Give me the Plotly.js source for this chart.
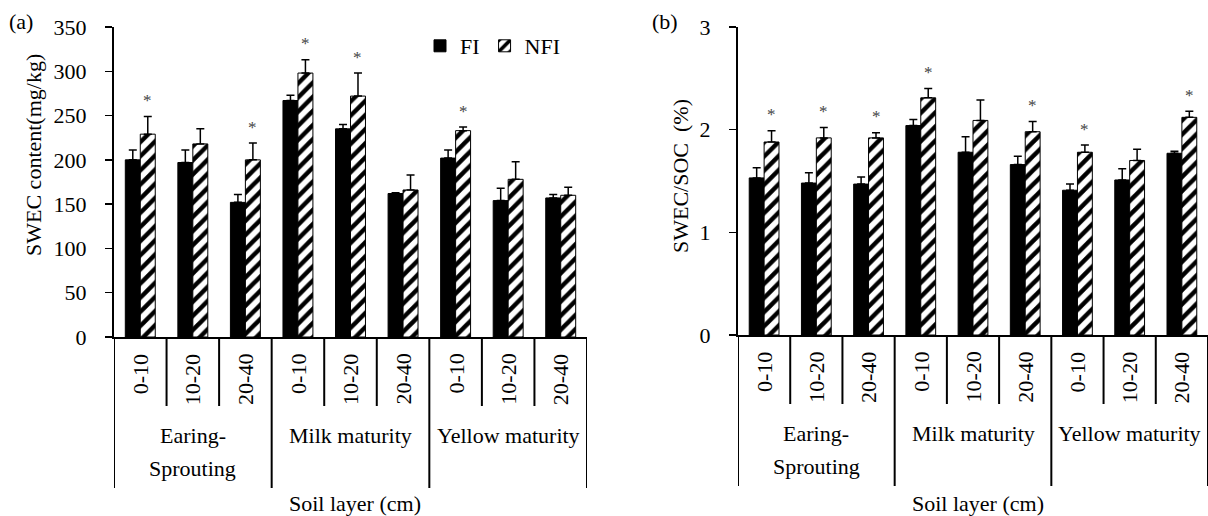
<!DOCTYPE html>
<html>
<head>
<meta charset="utf-8">
<script src="https://cdn.plot.ly/plotly-3.0.1.min.js"></script>
<style>html,body{margin:0;padding:0;background:#fff}#chart{width:1208px;height:516px}</style>
</head>
<body>
<div id="chart"></div>
<script>
// ---- data ----
const stages = ["Earing-<br>Sprouting", "Milk maturity", "Yellow maturity"];
const layers = ["0-10", "10-20", "20-40"];
const seriesNames = ["FI", "NFI"];

// (a) SWEC content (mg/kg)
const swecFI = [200, 197, 152, 267, 235, 162, 202, 154, 157];
const swecFIerr = [11, 14, 9, 6, 5, 1, 9, 14, 4];
const swecNFI = [229, 218, 200, 298, 272, 166, 233, 178, 160];
const swecNFIerr = [20, 17, 19, 15, 26, 17, 4, 20, 9];
const swecSig = [1, 0, 1, 1, 1, 0, 1, 0, 0];

// (b) SWEC/SOC (%)
const ratioFI = [1.53, 1.48, 1.47, 2.04, 1.78, 1.66, 1.41, 1.51, 1.77];
const ratioFIerr = [0.10, 0.10, 0.07, 0.06, 0.15, 0.08, 0.06, 0.11, 0.02];
const ratioNFI = [1.88, 1.92, 1.92, 2.31, 2.09, 1.98, 1.78, 1.70, 2.12];
const ratioNFIerr = [0.11, 0.10, 0.05, 0.09, 0.20, 0.10, 0.07, 0.11, 0.06];
const ratioSig = [1, 1, 1, 1, 0, 1, 1, 0, 1];

const yTitleA = "SWEC content(mg/kg)";
const yTitleB = "SWEC/SOC  (%)";
const xTitle = "Soil layer (cm)";

// ---- layout helpers ----
const W = 1208, H = 516;
const px = v => v / W;
const py = v => 1 - v / H;
const FONT = "'Liberation Serif', serif";
const nCat = stages.length * layers.length;
const xIdx = Array.from({length: nCat}, (_, i) => i);
const zeros = xIdx.map(() => 0);
const BARGAP = 0.43;
const nfiOffset = (1 - BARGAP) / 4;

function barTraces(fi, fiErr, nfi, nfiErr, xa, ya, showLeg) {
  return [
    {type: 'bar', name: seriesNames[0], x: xIdx, y: fi, xaxis: xa, yaxis: ya,
     showlegend: showLeg, legendgroup: 'FI',
     marker: {color: '#000', line: {color: '#000', width: 1}},
     error_y: {type: 'data', symmetric: false, array: fiErr, arrayminus: zeros,
               color: '#000', thickness: 1.5, width: 4}},
    {type: 'bar', name: seriesNames[1], x: xIdx, y: nfi, xaxis: xa, yaxis: ya,
     showlegend: showLeg, legendgroup: 'NFI',
     marker: {color: '#fff', line: {color: '#000', width: 1},
              pattern: {shape: '/', fgcolor: '#000', bgcolor: '#fff', size: 10, solidity: 0.45, fillmode: 'replace'}},
     error_y: {type: 'data', symmetric: false, array: nfiErr, arrayminus: zeros,
               color: '#000', thickness: 1.5, width: 4}}
  ];
}

const data = [
  ...barTraces(swecFI, swecFIerr, swecNFI, swecNFIerr, 'x', 'y', true),
  ...barTraces(ratioFI, ratioFIerr, ratioNFI, ratioNFIerr, 'x2', 'y2', false)
];

const panels = [
  {xa: 'x', ya: 'y', left: 114, right: 587, top: 27, bottom: 337, nfi: swecNFI, err: swecNFIerr, sig: swecSig,
   ytitle: yTitleA, ytx: 33, yty: 155, tag: '(a)', tagx: 20.5, xtx: 355},
  {xa: 'x2', ya: 'y2', left: 738, right: 1208.5, top: 27, bottom: 335, nfi: ratioNFI, err: ratioNFIerr, sig: ratioSig,
   ytitle: yTitleB, ytx: 681, yty: 176, tag: '(b)', tagx: 665, xtx: 978}
];

const shapes = [];
const annotations = [];
panels.forEach(p => {
  for (let k = 0; k <= nCat; k++) {
    const long = k % layers.length === 0;
    shapes.push({type: 'line', xref: p.xa, yref: 'paper', x0: k - 0.5, x1: k - 0.5,
      y0: py(p.bottom), y1: py(p.bottom + (long ? 151 : 69)), line: {color: '#000', width: 2}});
  }
  xIdx.forEach(i => {
    annotations.push({xref: p.xa, yref: 'paper', x: i, y: py(p.bottom + 15), yanchor: 'top', xanchor: 'center',
      text: layers[i % layers.length], textangle: -90, showarrow: false, font: {family: FONT, size: 22, color: '#000'}});
    if (p.sig[i]) {
      annotations.push({xref: p.xa, yref: p.ya, x: i + nfiOffset, y: p.nfi[i] + p.err[i], yshift: 16,
        xanchor: 'center', text: '*', showarrow: false, font: {family: FONT, size: 17, color: '#444'}});
    }
  });
  stages.forEach((s, g) => {
    s.split('<br>').forEach((line, li) => {
      annotations.push({xref: p.xa, yref: 'paper', x: g * layers.length + (layers.length - 1) / 2,
        y: py(p.bottom + 98 + li * 33), xanchor: 'center', yanchor: 'middle', text: line, showarrow: false,
        font: {family: FONT, size: 22, color: '#000'}});
    });
  });
  annotations.push({xref: 'paper', yref: 'paper', x: px(p.xtx), y: py(503), xanchor: 'center', yanchor: 'middle',
    text: xTitle, showarrow: false, font: {family: FONT, size: 22, color: '#000'}});
  annotations.push({xref: 'paper', yref: 'paper', x: px(p.ytx), y: py(p.yty), xanchor: 'center', yanchor: 'middle',
    text: p.ytitle, textangle: -90, showarrow: false, font: {family: FONT, size: 22, color: '#000'}});
  annotations.push({xref: 'paper', yref: 'paper', x: px(p.tagx), y: py(22), xanchor: 'center', yanchor: 'middle',
    text: p.tag, showarrow: false, font: {family: FONT, size: 22, color: '#000'}});
});

const xBase = {range: [-0.5, nCat - 0.5], showticklabels: false, ticks: '', showgrid: false, zeroline: false,
  showline: true, linecolor: '#000', linewidth: 2, fixedrange: true};
const yBase = {showgrid: false, zeroline: false, showline: true, linecolor: '#000', linewidth: 2,
  ticks: 'outside', ticklen: 7, tickwidth: 1.5, tickcolor: '#000', ticklabelstandoff: 14,
  tickfont: {family: FONT, size: 22, color: '#000'}, fixedrange: true};

const layout = {
  width: W, height: H,
  margin: {l: 0, r: 0, t: 0, b: 0, pad: 0},
  paper_bgcolor: '#fff', plot_bgcolor: 'rgba(0,0,0,0)',
  barmode: 'group', bargap: BARGAP, bargroupgap: 0,
  font: {family: FONT, size: 22, color: '#000'},
  xaxis: Object.assign({}, xBase, {domain: [px(panels[0].left), px(panels[0].right)], anchor: 'y'}),
  yaxis: Object.assign({}, yBase, {domain: [py(panels[0].bottom), py(panels[0].top)], anchor: 'x', range: [0, 350], dtick: 50, tick0: 0}),
  xaxis2: Object.assign({}, xBase, {domain: [px(panels[1].left), 1], anchor: 'y2'}),
  yaxis2: Object.assign({}, yBase, {domain: [py(panels[1].bottom), py(panels[1].top)], anchor: 'x2', range: [0, 3], dtick: 1, tick0: 0}),
  showlegend: true,
  legend: {orientation: 'h', x: px(420), y: py(25), xanchor: 'left', yanchor: 'top', bgcolor: 'rgba(0,0,0,0)',
    font: {family: FONT, size: 22, color: '#000'}, itemwidth: 30, traceorder: 'normal'},
  shapes: shapes,
  annotations: annotations
};

Plotly.newPlot('chart', data, layout, {displayModeBar: false, staticPlot: true});
</script>
</body>
</html>
